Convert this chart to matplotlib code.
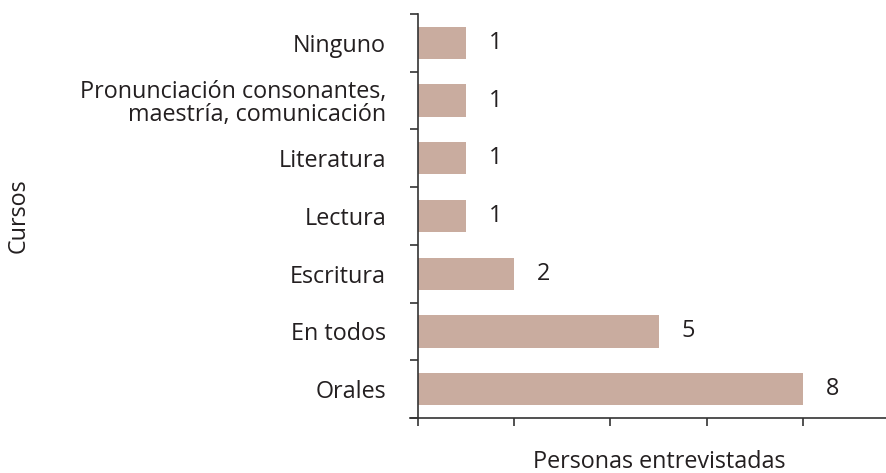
import matplotlib
matplotlib.use("Agg")
import matplotlib.pyplot as plt
import numpy as np

categories = ["Orales", "En todos", "Escritura", "Lectura", "Literatura",
              "Pronunciación consonantes,\nmaestría, comunicación", "Ninguno"]
values = [8, 5, 2, 1, 1, 1, 1]
x_ticks = [0, 2, 4, 6, 8]

plt.rcParams['font.family'] = ['Open Sans', 'DejaVu Sans']
text_color = "#231f20"
bar_color = "#c9ac9f"
fs = 16.8

fig = plt.figure(figsize=(8.87, 4.73), dpi=100)
ax = fig.add_axes([410/887, 1-418/473, 1-410/887, (418-14)/473])

y = np.arange(len(categories))
ax.barh(y, values, height=0.56, color=bar_color)
for yi, v in zip(y, values):
    ax.text(v + 0.48, yi, str(v), va='center', ha='left', fontsize=fs, color=text_color)

ax.set_xlim(-8/48, (887-419)/48)
ax.set_ylim(-0.5, len(categories) - 0.5)

ax.spines['top'].set_visible(False)
ax.spines['right'].set_visible(False)
ax.spines['left'].set_position(('data', 0))
for s in ['left', 'bottom']:
    ax.spines[s].set_color("#333333")
    ax.spines[s].set_linewidth(1.2)

ax.set_yticks(y)
ax.set_yticklabels(categories, fontsize=fs, color=text_color, linespacing=0.98)
ax.tick_params(axis='y', which='major', length=0, pad=23)
ax.set_yticks(np.arange(-0.5, len(categories) + 0.5, 1), minor=True)
ax.tick_params(axis='y', which='minor', length=6, width=1.2, color="#333333", direction='out')

ax.set_xticks(x_ticks)
ax.set_xticklabels([])
ax.tick_params(axis='x', which='major', length=6, width=1.2, color="#333333", direction='out')

fig.text(19/887, 1-216/473, "Cursos", rotation=90, ha='center', va='center',
         fontsize=fs, color=text_color)
fig.text(659/887, 1-462/473, "Personas entrevistadas", ha='center', va='center',
         fontsize=fs, color=text_color)

fig.savefig("out.png", dpi=100)
